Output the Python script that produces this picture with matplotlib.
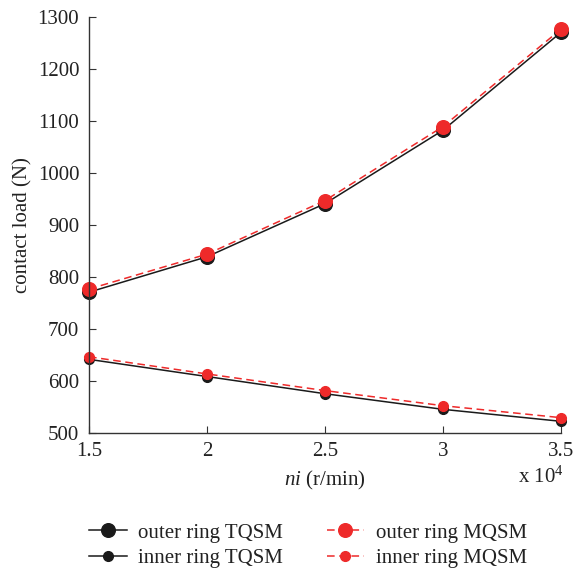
import matplotlib
matplotlib.use("Agg")
import matplotlib.pyplot as plt

# speed (x 10^4 r/min)
ni_ = [1.5, 2.0, 2.5, 3.0, 3.5]

outer_tqsm_ = [771, 839, 941, 1082, 1270]
inner_tqsm_ = [642, 609, 576, 546, 523]
outer_mqsm_ = [777, 844, 947, 1089, 1276]
inner_mqsm_ = [647, 614, 582, 553, 530]

x_ticks_ = [1.5, 2, 2.5, 3, 3.5]
x_tick_labels_ = ["1.5", "2", "2.5", "3", "3.5"]
y_ticks_ = [500, 600, 700, 800, 900, 1000, 1100, 1200, 1300]

red_ = "#ee2a2a"
blk_ = "#1a1a1a"
txt_ = "#222222"

plt.rcParams["font.family"] = ["Liberation Serif", "DejaVu Serif"]
plt.rcParams["font.size"] = 15
plt.rcParams["mathtext.fontset"] = "custom"
plt.rcParams["mathtext.rm"] = "Liberation Serif"
plt.rcParams["mathtext.it"] = "Liberation Serif:italic"

W, H = 574, 571
fig = plt.figure(figsize=(W / 100, H / 100), dpi=100)
ax = fig.add_axes([89 / W, 1 - 433.3 / H, 472 / W, 416.6 / H])

ax.plot(ni_, outer_tqsm_, "-", color=blk_, lw=1.1, marker="o", ms=9.8, label="outer ring TQSM")
ax.plot(ni_, inner_tqsm_, "-", color=blk_, lw=1.1, marker="o", ms=7, label="inner ring TQSM")
ax.plot(ni_, outer_mqsm_, "--", color=red_, lw=1.1, marker="o", ms=9.8, dashes=(5, 3), label="outer ring MQSM")
ax.plot(ni_, inner_mqsm_, "--", color=red_, lw=1.1, marker="o", ms=7, dashes=(5, 3), label="inner ring MQSM")

ax.set_xlim(1.5, 3.5)
ax.set_ylim(500, 1300)
ax.set_xticks(x_ticks_)
ax.set_xticklabels(x_tick_labels_)
ax.set_yticks(y_ticks_)
ax.spines["top"].set_visible(False)
ax.spines["right"].set_visible(False)
for sp in ["left", "bottom"]:
    ax.spines[sp].set_color("#333333")
    ax.spines[sp].set_linewidth(1.0)
ax.tick_params(direction="in", length=5, color="#333333", labelcolor=txt_)
ax.tick_params(axis="y", pad=7)
ax.tick_params(axis="x", pad=6)
for ln in ax.lines:
    ln.set_clip_on(False)

ax.set_ylabel("contact load (N)", color=txt_)
ax.yaxis.set_label_coords((32 - 89) / 472, 0.5)
ax.set_xlabel(r"$\mathit{ni}$ (r/min)", color=txt_)
ax.xaxis.set_label_coords(0.5, (433.3 - 469) / 416.6)
ax.text((564 - 89) / 472, (433.3 - 477) / 416.6, r"x 10$^4$", transform=ax.transAxes,
        ha="right", va="center", color=txt_)

fig.legend(loc="upper left", bbox_to_anchor=(89 / W, 1 - 523 / H), ncol=2, frameon=False,
           borderpad=0, borderaxespad=0, handlelength=1.8, columnspacing=2.1,
           labelspacing=0.3, handletextpad=0.55, labelcolor=txt_)

fig.savefig("out.png", dpi=100)
